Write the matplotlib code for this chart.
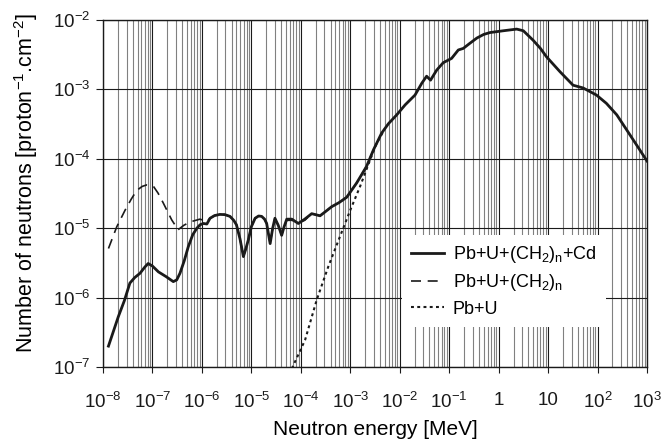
"""Neutron energy spectra for Pb+U assemblies with and without moderator/absorber."""

import math

import matplotlib

matplotlib.use("Agg")
import matplotlib.pyplot as plt  # noqa: E402
from matplotlib.ticker import FixedLocator, FuncFormatter, LogLocator, NullFormatter  # noqa: E402

# Pb+U+(CH2)n+Cd  (solid)
cd_energy = [1.29e-8, 2.04e-8, 2.7e-8, 3.5e-8, 4.4e-8, 5.6e-8, 7.0e-8, 8.2e-8, 1.0e-7,
             1.32e-7, 1.9e-7, 2.64e-7, 3.1e-7, 3.6e-7, 4.4e-7, 5.3e-7, 6.5e-7, 7.9e-7,
             9.2e-7, 1.07e-6, 1.26e-6, 1.46e-6, 1.8e-6, 2.3e-6, 2.9e-6, 3.7e-6, 4.4e-6,
             5.0e-6, 5.9e-6, 6.9e-6, 7.7e-6, 8.7e-6, 1.0e-5, 1.19e-5, 1.4e-5, 1.62e-5,
             1.85e-5, 2.04e-5, 2.4e-5, 2.7e-5, 3.0e-5, 3.5e-5, 4.1e-5, 4.6e-5, 5.2e-5,
             6.6e-5, 8.9e-5, 1.2e-4, 1.66e-4, 2.45e-4, 3.2e-4, 4.2e-4, 6.0e-4, 8.5e-4,
             1.35e-3, 2.14e-3, 2.95e-3, 4.3e-3, 5.9e-3, 8.7e-3, 1.29e-2, 2.04e-2, 2.8e-2,
             3.5e-2, 4.2e-2, 5.6e-2, 7.6e-2, 0.112, 0.153, 0.193, 0.26, 0.363, 0.5, 0.67,
             1.24, 2.32, 3.16, 5.0, 7.0, 9.3, 17.4, 32, 51, 95, 151, 245, 390, 617, 1000]
cd_flux = [2.0e-7, 5.3e-7, 9.0e-7, 1.62e-6, 1.95e-6, 2.24e-6, 2.75e-6, 3.1e-6, 2.85e-6,
           2.35e-6, 2.0e-6, 1.7e-6, 1.8e-6, 2.24e-6, 3.4e-6, 5.4e-6, 8.0e-6, 1.0e-5,
           1.12e-5, 1.17e-5, 1.15e-5, 1.39e-5, 1.52e-5, 1.58e-5, 1.57e-5, 1.48e-5, 1.3e-5,
           1.12e-5, 7.0e-6, 3.9e-6, 5.0e-6, 6.8e-6, 1.05e-5, 1.39e-5, 1.5e-5, 1.48e-5,
           1.35e-5, 1.17e-5, 6.0e-6, 1.0e-5, 1.39e-5, 1.1e-5, 7.9e-6, 1.05e-5, 1.35e-5,
           1.35e-5, 1.17e-5, 1.35e-5, 1.62e-5, 1.51e-5, 1.75e-5, 2.04e-5, 2.35e-5, 2.8e-5,
           4.5e-5, 7.8e-5, 1.35e-4, 2.34e-4, 3.2e-4, 4.3e-4, 6.0e-4, 8.3e-4, 1.23e-3,
           1.55e-3, 1.36e-3, 1.9e-3, 2.43e-3, 2.8e-3, 3.7e-3, 3.9e-3, 4.6e-3, 5.5e-3, 6.2e-3,
           6.6e-3, 7.0e-3, 7.4e-3, 7.0e-3, 5.1e-3, 3.9e-3, 2.95e-3,
           1.8e-3, 1.15e-3, 1.05e-3, 8.3e-4, 6.3e-4, 4.3e-4, 2.6e-4, 1.58e-4, 9.3e-5]

# Pb+U+(CH2)n  (dashed)
ch2_energy = [1.29e-8, 1.9e-8, 2.8e-8, 3.7e-8, 4.8e-8, 6.2e-8, 7.6e-8, 9.0e-8, 1.05e-7,
              1.3e-7, 1.66e-7, 2.45e-7, 3.3e-7, 4.3e-7, 5.75e-7, 9.1e-7, 1.26e-6, 1.46e-6,
              1.8e-6, 2.3e-6, 2.9e-6, 3.7e-6, 4.4e-6, 5.0e-6, 5.9e-6, 6.9e-6, 7.7e-6,
              8.7e-6, 1.0e-5, 1.19e-5, 1.4e-5, 1.62e-5, 1.85e-5, 2.04e-5, 2.4e-5, 2.7e-5,
              3.0e-5, 3.5e-5, 4.1e-5, 4.6e-5, 5.2e-5, 6.6e-5, 8.9e-5, 1.2e-4, 1.66e-4,
              2.45e-4, 3.2e-4, 4.2e-4, 6.0e-4, 8.5e-4, 1.35e-3, 2.14e-3, 2.95e-3]
ch2_flux = [5.1e-6, 1.05e-5, 1.82e-5, 2.6e-5, 3.5e-5, 4.0e-5, 4.2e-5, 4.15e-5, 4.0e-5,
            3.2e-5, 2.3e-5, 1.32e-5, 9.5e-6, 1.1e-5, 1.23e-5, 1.35e-5, 1.26e-5, 1.39e-5,
            1.52e-5, 1.58e-5, 1.57e-5, 1.48e-5, 1.3e-5, 1.12e-5, 7.0e-6, 3.9e-6, 5.0e-6,
            6.8e-6, 1.05e-5, 1.39e-5, 1.5e-5, 1.48e-5, 1.35e-5, 1.17e-5, 6.0e-6, 1.0e-5,
            1.39e-5, 1.1e-5, 7.9e-6, 1.05e-5, 1.3e-5, 1.3e-5, 1.2e-5, 1.3e-5, 1.62e-5,
            1.51e-5, 1.75e-5, 2.04e-5, 2.35e-5, 2.8e-5, 4.5e-5, 7.8e-5, 1.35e-4]

# Pb+U  (dotted)
pbu_energy = [6.6e-5, 1.22e-4, 2.1e-4, 3.6e-4, 6.2e-4, 1.0e-3, 1.58e-3, 2.5e-3, 3.4e-3, 5.0e-3]
pbu_flux = [9.5e-8, 2.45e-7, 9.3e-7, 2.8e-6, 7.6e-6, 1.82e-5, 4.0e-5, 9.5e-5, 1.66e-4, 2.7e-4]

x_ticks = [1e-8, 1e-7, 1e-6, 1e-5, 1e-4, 1e-3, 1e-2, 1e-1, 1, 10, 1e2, 1e3]
y_ticks = [1e-7, 1e-6, 1e-5, 1e-4, 1e-3, 1e-2]

INK = "#1a1a1a"


def _decade_label(value, _pos):
    exp = int(round(math.log10(value)))
    if exp == 0:
        return "1"
    if exp == 1:
        return "10"
    return r"$\mathregular{10^{%d}}$" % exp


plt.rcParams.update({
    "font.family": ["Liberation Sans", "DejaVu Sans"],
    "font.size": 13.5,
    "mathtext.default": "regular",
    "lines.solid_joinstyle": "round",
    "lines.dash_joinstyle": "round",
})

fig = plt.figure(figsize=(6.67, 4.41), dpi=100)
ax = fig.add_axes([0.1544, 0.1678, 0.8156, 0.7868])

ax.plot(cd_energy, cd_flux, color=INK, linewidth=2.0, label=r"Pb+U+(CH$_2$)$_n$+Cd", zorder=4)
ax.plot(ch2_energy, ch2_flux, color=INK, linewidth=1.2, dashes=(6, 4),
        label=r"Pb+U+(CH$_2$)$_n$", zorder=3)
ax.plot(pbu_energy, pbu_flux, color=INK, linewidth=1.5, dashes=(1.4, 1.6), label="Pb+U", zorder=3)

ax.set_xscale("log")
ax.set_yscale("log")
ax.set_xlim(1e-8, 1e3)
ax.set_ylim(1e-7, 1e-2)

ax.xaxis.set_major_locator(FixedLocator(x_ticks))
ax.yaxis.set_major_locator(FixedLocator(y_ticks))
ax.xaxis.set_minor_locator(LogLocator(base=10, subs=range(2, 10), numticks=20))
ax.yaxis.set_minor_locator(FixedLocator([]))
ax.xaxis.set_major_formatter(FuncFormatter(_decade_label))
ax.yaxis.set_major_formatter(FuncFormatter(_decade_label))
ax.xaxis.set_minor_formatter(NullFormatter())

ax.tick_params(which="major", direction="out", width=0.8, labelsize=13.5, colors=INK)
ax.tick_params(axis="x", which="major", length=4, pad=14)
ax.tick_params(axis="y", which="major", length=5, pad=4)
ax.tick_params(which="minor", length=0)
ax.grid(True, which="major", color=INK, linewidth=0.8)
ax.grid(True, which="minor", axis="x", color="#808080", linewidth=0.8)
for spine in ax.spines.values():
    spine.set_color(INK)
    spine.set_linewidth(1.0)

ax.set_xlabel("Neutron energy [MeV]", fontsize=15, labelpad=6)
ax.set_ylabel(r"Number of neutrons [proton$^{-1}$.cm$^{-2}$]", fontsize=15.5)
ax.yaxis.set_label_coords(-0.116, 0.53)

leg = ax.legend(loc="upper left", bbox_to_anchor=(0.55, 0.38), frameon=True, fancybox=False,
                edgecolor="none", facecolor="white", framealpha=1.0, handlelength=1.8,
                handletextpad=0.5, labelspacing=0.4, borderpad=0.5, borderaxespad=0,
                fontsize=13)
leg.set_zorder(5)

fig.savefig("out.png", dpi=100)
